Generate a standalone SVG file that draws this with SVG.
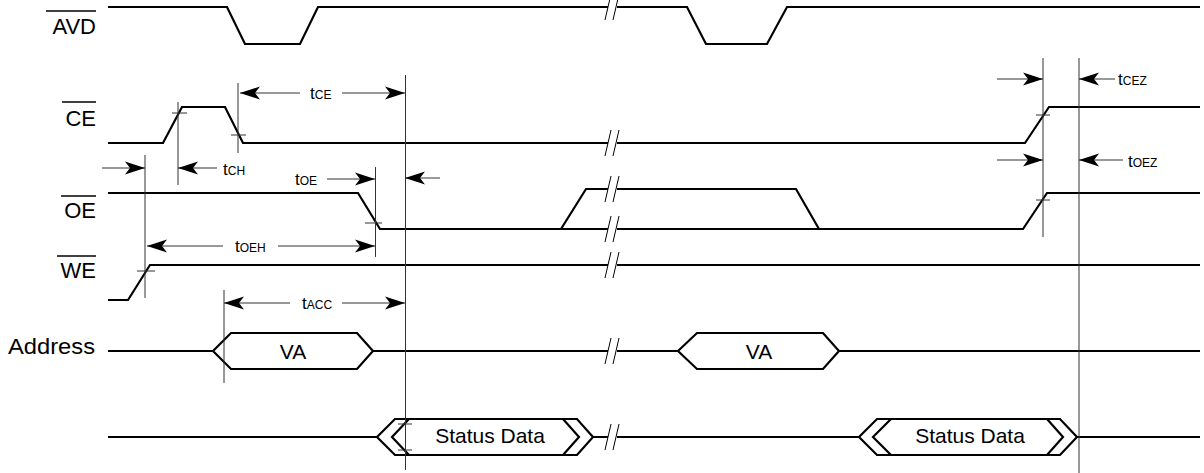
<svg xmlns="http://www.w3.org/2000/svg" width="1204" height="473" viewBox="0 0 1204 473">
<style>
.sig{fill:none;stroke:#000;stroke-width:2.2;stroke-linejoin:miter}
.vl{fill:none;stroke:#333;stroke-width:1}
.dim{fill:none;stroke:#333;stroke-width:1;marker-end:url(#ah)}
.brk{fill:none;stroke:#000;stroke-width:1}
.tick{fill:none;stroke:#333;stroke-width:1}
.ob{stroke:#000;stroke-width:1.5}
.lbl{font-family:"Liberation Sans",Arial,sans-serif;font-size:22px;fill:#000}
.tt{font-family:"Liberation Sans",Arial,sans-serif;font-size:17px;fill:#000}
.ss{font-size:12px}
</style>
<defs>
<marker id="ah" markerUnits="userSpaceOnUse" markerWidth="22" markerHeight="16" refX="20" refY="8" orient="auto">
<path d="M20,8 L0,1.5 L5,8 L0,14.5 Z" fill="#000"/>
</marker>
<g id="brkmark">
<line x1="605" y1="13" x2="611" y2="-13"/>
<line x1="613" y1="13" x2="619" y2="-13"/>
</g>
</defs>
<rect width="1204" height="473" fill="#fff"/>

<g id="labels">
<g id="lbl-avd"><text class="lbl" x="96" y="34" text-anchor="end">AVD</text><line class="ob" x1="46" y1="11" x2="96" y2="11"/></g>
<g id="lbl-ce"><text class="lbl" x="96" y="126" text-anchor="end">CE</text><line class="ob" x1="62" y1="102" x2="96" y2="102"/></g>
<g id="lbl-oe"><text class="lbl" x="96" y="218" text-anchor="end">OE</text><line class="ob" x1="61" y1="196" x2="96" y2="196"/></g>
<g id="lbl-we"><text class="lbl" x="96" y="278" text-anchor="end">WE</text><line class="ob" x1="57" y1="256" x2="96" y2="256"/></g>
<g id="lbl-addr"><text class="lbl" x="8" y="354" textLength="87" lengthAdjust="spacingAndGlyphs">Address</text></g>
</g>

<g id="signals">
<g id="sig-avd"><path class="sig" d="M108,7 H227 L245,44 H300 L318,7 H608 M617,7 H687 L706,44 H767 L787,7 H1200"/>
<use href="#brkmark" class="brk" transform="translate(0,7)"/></g>
<g id="sig-ce"><path class="sig" d="M108,143 H163 L182,107 H225 L243,143 H608 M617,143 H1025 L1049,107 H1200"/>
<use href="#brkmark" class="brk" transform="translate(0,143)"/></g>
<g id="sig-oe"><path class="sig" d="M108,193 H358 L380,229 H608 M617,229 H1023 L1047,193 H1200"/>
<path class="sig" d="M561,229 L586,189 H608 M617,189 H796 L819,229"/>
<use href="#brkmark" class="brk" transform="translate(0,189)"/>
<use href="#brkmark" class="brk" transform="translate(0,229)"/></g>
<g id="sig-we"><path class="sig" d="M108,300 H128 L150,265 H608 M617,265 H1200"/>
<use href="#brkmark" class="brk" transform="translate(0,265)"/></g>
<g id="sig-addr"><path class="sig" d="M108,351 H213 M373,351 H608 M617,351 H678 M839,351 H1200"/>
<use href="#brkmark" class="brk" transform="translate(0,351)"/>
<g id="va1"><path class="sig" d="M213,351 L231,333 H357 L373,351 L357,369 H231 Z" fill="#fff"/><text class="lbl" x="293" y="359" text-anchor="middle" style="font-size:21px">VA</text></g>
<g id="va2"><path class="sig" d="M678,351 L697,333 H823 L839,351 L823,369 H697 Z" fill="#fff"/><text class="lbl" x="759" y="359" text-anchor="middle" style="font-size:21px">VA</text></g>
</g>
<g id="sig-data"><path class="sig" d="M108,437 H377 M593,437 H608 M617,437 H859 M1077,437 H1200"/>
<use href="#brkmark" class="brk" transform="translate(0,437)"/>
<g id="sd1"><path class="sig" d="M377,437 L395,419 H577 L593,437 L577,455 H395 Z" fill="#fff"/>
<path class="sig" d="M409,419 L392,437 L409,455 M563,419 L579,437 L563,455"/>
<text class="lbl" x="490" y="443" text-anchor="middle" style="font-size:21px">Status Data</text></g>
<g id="sd2"><path class="sig" d="M859,437 L877,419 H1060 L1077,437 L1060,455 H877 Z" fill="#fff"/>
<path class="sig" d="M891,419 L873,437 L891,455 M1047,419 L1063,437 L1047,455"/>
<text class="lbl" x="970" y="443" text-anchor="middle" style="font-size:21px">Status Data</text></g>
</g>
</g>

<g id="connectors">
<line class="vl" x1="405.5" y1="75" x2="405.5" y2="470"/>
<line class="vl" x1="1079" y1="58" x2="1079" y2="473"/>
<line class="vl" x1="1043" y1="58" x2="1043" y2="237"/>
<line class="vl" x1="375.5" y1="167" x2="375.5" y2="257"/>
<line class="vl" x1="238" y1="83" x2="238" y2="153"/>
<line class="vl" x1="178" y1="102" x2="178" y2="185"/>
<line class="vl" x1="145" y1="155" x2="145" y2="298"/>
<line class="vl" x1="224" y1="290" x2="224" y2="383"/>
<line class="tick" x1="172" y1="113" x2="187" y2="113"/>
<line class="tick" x1="231" y1="135" x2="246" y2="135"/>
<line class="tick" x1="365" y1="223" x2="382" y2="223"/>
<line class="tick" x1="137" y1="271" x2="155" y2="271"/>
<line class="tick" x1="1036" y1="115" x2="1050" y2="115"/>
<line class="tick" x1="1036" y1="200" x2="1050" y2="200"/>
<line class="tick" x1="398" y1="424" x2="412" y2="424"/>
<line class="tick" x1="398" y1="450" x2="412" y2="450"/>
<line class="dim" x1="300" y1="93" x2="240" y2="93"/>
<line class="dim" x1="342" y1="93" x2="405" y2="93"/>
<line class="dim" x1="102" y1="168" x2="145" y2="168"/>
<line class="dim" x1="217" y1="168" x2="178" y2="168"/>
<line class="dim" x1="327" y1="179" x2="375" y2="179"/>
<line class="dim" x1="440" y1="178" x2="405" y2="178"/>
<line class="dim" x1="223" y1="246" x2="147" y2="246"/>
<line class="dim" x1="278" y1="246" x2="375" y2="246"/>
<line class="dim" x1="290" y1="303" x2="224" y2="303"/>
<line class="dim" x1="342" y1="303" x2="405" y2="303"/>
<line class="dim" x1="997" y1="79" x2="1043" y2="79"/>
<line class="dim" x1="1115" y1="79" x2="1079" y2="79"/>
<line class="dim" x1="997" y1="160" x2="1043" y2="160"/>
<line class="dim" x1="1123" y1="160" x2="1079" y2="160"/>
</g>

<g id="timing-labels">
<text class="tt" x="310" y="99">t<tspan class="ss">CE</tspan></text>
<text class="tt" x="223" y="175">t<tspan class="ss">CH</tspan></text>
<text class="tt" x="295" y="185">t<tspan class="ss">OE</tspan></text>
<text class="tt" x="235" y="252">t<tspan class="ss">OEH</tspan></text>
<text class="tt" x="302" y="309">t<tspan class="ss">ACC</tspan></text>
<text class="tt" x="1118" y="85">t<tspan class="ss">CEZ</tspan></text>
<text class="tt" x="1128" y="167">t<tspan class="ss">OEZ</tspan></text>
</g>
</svg>
